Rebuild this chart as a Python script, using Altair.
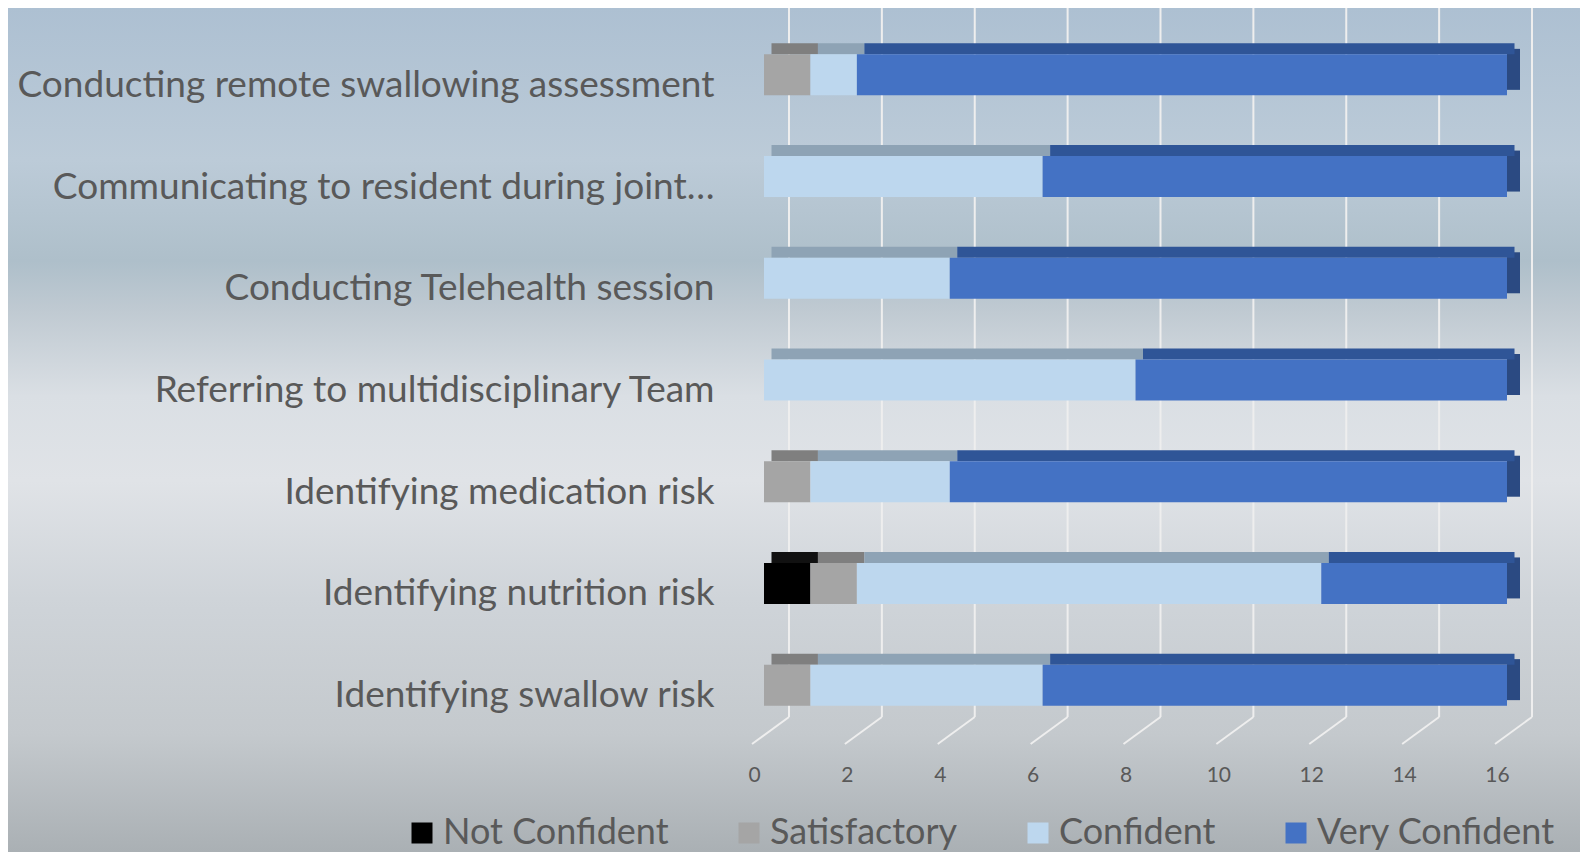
import altair as alt
import pandas as pd

categories = [
    "Conducting remote swallowing assessment",
    "Communicating to resident during joint…",
    "Conducting Telehealth session",
    "Referring to multidisciplinary Team",
    "Identifying medication risk",
    "Identifying nutrition risk",
    "Identifying swallow risk",
]
levels = ["Not Confident", "Satisfactory", "Confident", "Very Confident"]
not_confident = [0, 0, 0, 0, 0, 1, 0]
satisfactory = [1, 0, 0, 0, 1, 1, 1]
confident = [1, 6, 4, 8, 3, 10, 5]
very_confident = [14, 10, 12, 8, 12, 4, 10]
tick_values = [0, 2, 4, 6, 8, 10, 12, 14, 16]

front_colors = ["#000000", "#a5a5a5", "#bdd7ee", "#4472c4"]
top_colors = ["#111111", "#7f7f7f", "#8ea3b5", "#2f5597"]
side_color = "#2b4a82"

series = [not_confident, satisfactory, confident, very_confident]
rows = []
for i, cat in enumerate(categories):
    start = 0
    for j, lev in enumerate(levels):
        v = series[j][i]
        if v > 0:
            rows.append({"category": cat, "level": lev, "start": start, "end": start + v,
                         "top": top_colors[j]})
        start += v
df = pd.DataFrame(rows)
ends = df.groupby("category", as_index=False)["end"].max()
ticks = pd.DataFrame({"tick": tick_values})

W, H = 743, 712
PL, PT, PR, PB = 756, 16, 73, 116

xscale = alt.Scale(domain=[0, 16], nice=False, zero=True)
yscale = alt.Scale(domain=categories, paddingInner=0, paddingOuter=0)

bg = alt.Chart(pd.DataFrame({"a": [0]})).mark_rect(
    fill={
        "gradient": "linear", "x1": 0, "x2": 0, "y1": 0, "y2": 1,
        "stops": [
            {"offset": 0.0, "color": "#adc0d2"},
            {"offset": 0.18, "color": "#bccbd8"},
            {"offset": 0.30, "color": "#aebfca"},
            {"offset": 0.36, "color": "#c0cad2"},
            {"offset": 0.46, "color": "#dadfe4"},
            {"offset": 0.56, "color": "#e0e3e7"},
            {"offset": 0.70, "color": "#cfd4d9"},
            {"offset": 0.86, "color": "#c4c9cd"},
            {"offset": 1.0, "color": "#aab0b4"},
        ],
    }
).encode(
    x=alt.value(-PL), x2=alt.value(W + PR), y=alt.value(-PT), y2=alt.value(H + PB)
)

grid_v = alt.Chart(ticks).mark_rule(color="#eeeeee", strokeWidth=2, xOffset=25).encode(
    x=alt.X("tick:Q", scale=xscale),
    y=alt.value(-18),
    y2=alt.value(693),
)
grid_d = alt.Chart(ticks).mark_rule(color="#eeeeee", strokeWidth=2, xOffset=25, x2Offset=-12).encode(
    x=alt.X("tick:Q", scale=xscale),
    x2=alt.X2("tick:Q"),
    y=alt.value(693),
    y2=alt.value(720),
)

side = alt.Chart(ends).mark_bar(size=41, yOffset=-5.5, x2Offset=13, color=side_color).encode(
    x=alt.X("end:Q", scale=xscale),
    x2=alt.X2("end:Q"),
    y=alt.Y("category:N", scale=yscale),
)

top = alt.Chart(df).mark_bar(size=11, yOffset=-26, xOffset=7.5, x2Offset=7.5).encode(
    x=alt.X("start:Q", scale=xscale),
    x2=alt.X2("end:Q"),
    y=alt.Y("category:N", scale=yscale),
    color=alt.Color("top:N", scale=None),
)

front = alt.Chart(df).mark_bar(size=41).encode(
    x=alt.X("start:Q", scale=xscale,
            axis=alt.Axis(values=tick_values, grid=False, domain=False, ticks=False,
                          labelFontSize=21, labelFont="Lato", labelColor="#595959",
                          labelOffset=-10, labelPadding=28, labelFlush=False,
                          title=None, zindex=2)),
    x2=alt.X2("end:Q"),
    y=alt.Y("category:N", scale=yscale, sort=categories,
            axis=alt.Axis(grid=False, domain=False, ticks=False, labelFontSize=37,
                          labelFont="Lato", labelColor="#595959", labelPadding=50,
                          labelLimit=900, labelOffset=11, title=None, zindex=2)),
    color=alt.Color("level:N", scale=alt.Scale(domain=levels, range=front_colors),
                    legend=alt.Legend(orient="none", legendX=-360, legendY=791,
                                      direction="horizontal", title=None,
                                      symbolType="square", symbolSize=441,
                                      symbolStrokeWidth=0, labelFontSize=36,
                                      labelFont="Lato", labelColor="#595959",
                                      labelLimit=400, labelOffset=3,
                                      columnPadding=62, padding=0, zindex=2)),
)

chart = alt.layer(bg, grid_v, grid_d, side, top, front).properties(
    width=W, height=H,
    padding={"left": PL, "top": PT, "right": PR, "bottom": PB},
    autosize=alt.AutoSizeParams(type="none"),
).configure_view(stroke=None).configure(background="#c8d0d8")

chart.save("out.html", embed_options={"renderer": "svg", "actions": False})
